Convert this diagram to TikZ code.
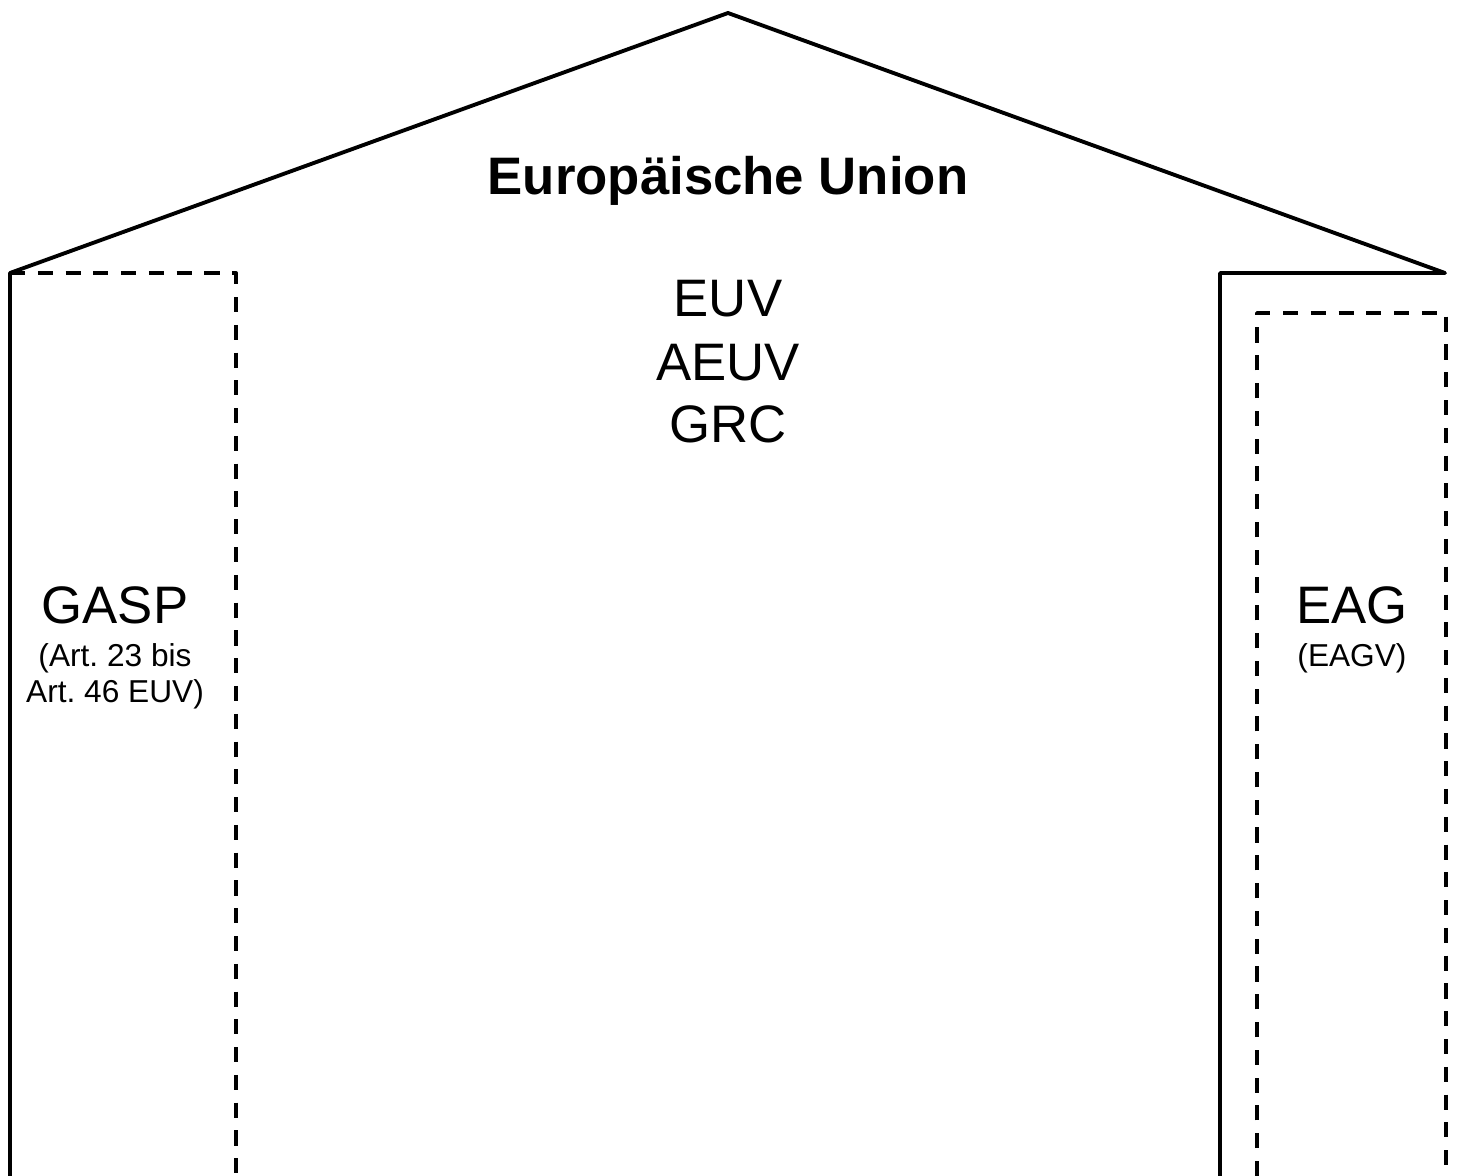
\documentclass[tikz,border=0pt]{standalone}
\usepackage{fontspec}
\setmainfont{Liberation Sans}
\usetikzlibrary{positioning}
\frenchspacing

\begin{document}
\begin{tikzpicture}[x=0.01cm,y=-0.01cm]
    \tikzset{wall/.style = {line width=1.1pt,line join=round}}
    \tikzset{pillar/.style = {wall,dash pattern=on 4.3pt off 3.6pt}}
    \tikzset{big/.style = {font=\fontsize{15}{18}\selectfont,anchor=base,inner sep=0pt}}
    \tikzset{small/.style = {font=\fontsize{9}{10}\selectfont,anchor=base,inner sep=0pt}}
    \useasboundingbox (0,0) rectangle (1459,1176);
    % roof and walls
    \coordinate (eaveL) at (10,273);
    \coordinate (apex) at (728,13);
    \coordinate (eaveR) at (1445,273);
    \draw[wall] (10,1176) -- (eaveL) -- (apex) -- (eaveR) -- (1220,273) -- (1220,1176);
    % pillars
    \draw[pillar] (eaveL) -- (236,273) -- (236,1176);
    \draw[pillar] (1257,1176) -- (1257,313) -- (1446,313) -- (1446,1176);
    % texts
    \node[big,font=\fontsize{15}{18}\selectfont\bfseries] (eu) at (728,195) {Europäische Union};
    \node[big] (euv) at (728,317) {EUV};
    \node[big] (aeuv) at (728,381) {AEUV};
    \node[big] (grc) at (728,443) {GRC};
    \node[big] (gasp) at (115,624) {GASP};
    \node[small] (gasp1) at (115,667) {(Art. 23 bis};
    \node[small] (gasp2) at (115,703) {Art. 46 EUV)};
    \node[big] (eag) at (1352,624) {EAG};
    \node[small] (eagv) at (1352,667) {(EAGV)};
\end{tikzpicture}
\end{document}
